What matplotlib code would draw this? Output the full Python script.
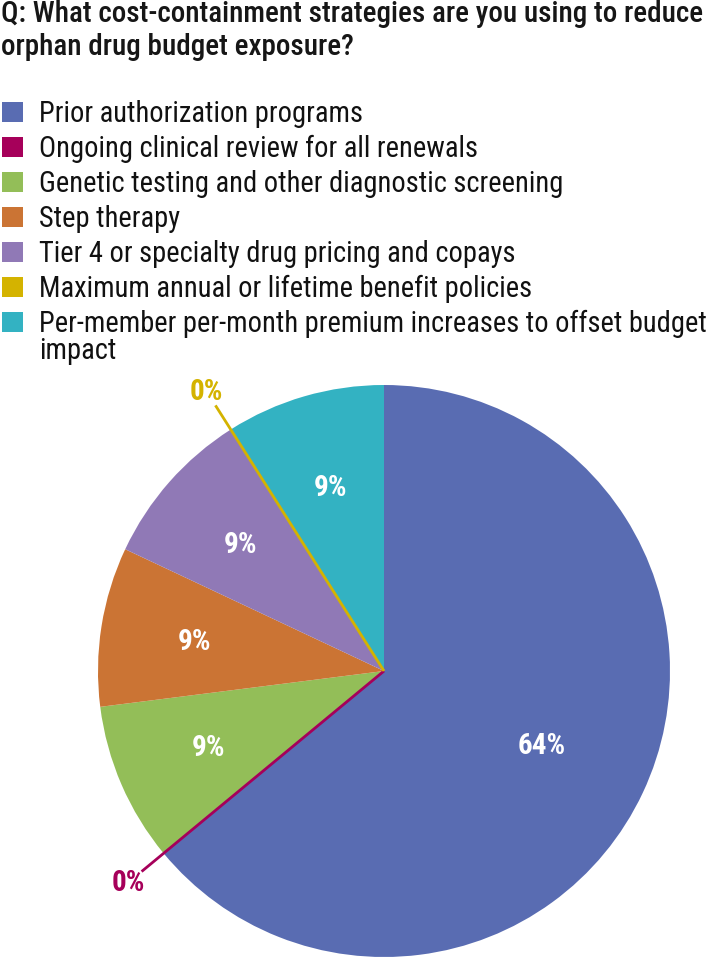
import matplotlib
matplotlib.use("Agg")
import matplotlib.pyplot as plt
from matplotlib import font_manager as fm
from matplotlib.patches import Rectangle
import numpy as np


def pick_font(cands):
    for c in cands:
        try:
            fm.findfont(fm.FontProperties(family=c), fallback_to_default=False)
            return c
        except Exception:
            pass
    return 'DejaVu Sans'


FONT = pick_font(['Roboto Condensed', 'Liberation Sans Narrow', 'Liberation Sans', 'Arial'])
plt.rcParams['font.family'] = [FONT, 'DejaVu Sans']

title_lines = ["Q: What cost-containment strategies are you using to reduce",
               "orphan drug budget exposure?"]
categories = [
    "Prior authorization programs",
    "Ongoing clinical review for all renewals",
    "Genetic testing and other diagnostic screening",
    "Step therapy",
    "Tier 4 or specialty drug pricing and copays",
    "Maximum annual or lifetime benefit policies",
    "Per-member per-month premium increases to offset budget\nimpact",
]
values = [64, 0, 9, 9, 9, 0, 9]
colors = ["#596CB2", "#A6005A", "#93BE58", "#CB7434", "#9079B6", "#D4B300", "#33B2C2"]

W, H = 708, 962
fig = plt.figure(figsize=(W / 100, H / 100), dpi=100)
renderer = fig.canvas.get_renderer()


def fx(px):
    return px / W


def fy(py):
    return 1 - py / H


def fit_size(text_obj, target_px):
    for _ in range(3):
        w = text_obj.get_window_extent(renderer).width
        text_obj.set_fontsize(text_obj.get_fontsize() * target_px / w)
    return text_obj.get_fontsize()


# Title
title_baselines = [22, 55]
title_texts = []
for line, yb in zip(title_lines, title_baselines):
    t = fig.text(fx(1), fy(yb), line, fontsize=17, fontweight='medium',
                 color='#161616', ha='left', va='baseline')
    title_texts.append(t)
ts = min(fit_size(title_texts[0], 703), 24)
for t in title_texts:
    t.set_fontsize(ts)

# Legend (manual)
row0 = 122
pitch = 35
line_pitch = 27
legend_texts = []
for i, (lab, col) in enumerate(zip(categories, colors)):
    yb = row0 + i * pitch
    fig.add_artist(Rectangle((fx(2), fy(yb + 1)), fx(21), 20 / H,
                             facecolor=col, edgecolor='none',
                             transform=fig.transFigure))
    for j, part in enumerate(lab.split("\n")):
        t = fig.text(fx(39), fy(yb + j * line_pitch), part, fontsize=18,
                     color='#111111', ha='left', va='baseline')
        legend_texts.append(t)
longest = max(legend_texts, key=lambda t: len(t.get_text()))
ls = min(fit_size(longest, 668), 24)
for t in legend_texts:
    t.set_fontsize(ls)

# Pie
cx, cy, r = 384, 672, 286
ax = fig.add_axes([fx(cx - r), fy(cy + r), 2 * r / W, 2 * r / H])

wedges, texts, autotexts = ax.pie(
    values, colors=colors, startangle=90, counterclock=False, radius=1,
    autopct=lambda p: f"{p:.0f}%", pctdistance=0.67,
    wedgeprops=dict(linewidth=0),
    textprops=dict(color='white', fontsize=21, fontweight='bold'))
ax.set_xlim(-1, 1)
ax.set_ylim(-1, 1)
ax.axis('off')

for w, v, t, col in zip(wedges, values, autotexts, colors):
    ang = np.deg2rad((w.theta1 + w.theta2) / 2)
    if v == 0:
        ax.plot([0, 1.10 * np.cos(ang)], [0, 1.10 * np.sin(ang)],
                color=col, lw=2.0, solid_capstyle='butt', zorder=3,
                clip_on=False)
        t.set_position((1.16 * np.cos(ang), 1.16 * np.sin(ang)))
        t.set_color(col)
        t.set_clip_on(False)
    elif v > 50:
        t.set_position((0.61 * np.cos(ang), 0.61 * np.sin(ang)))

fig.savefig("out.png", dpi=100)
